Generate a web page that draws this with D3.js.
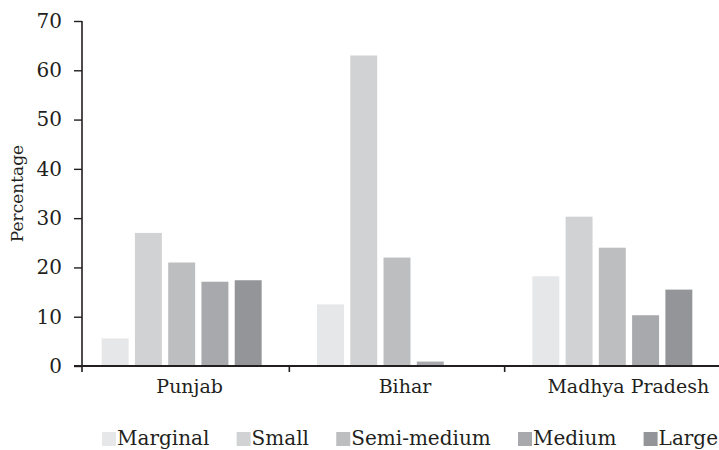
<!DOCTYPE html>
<html>
<head>
<meta charset="utf-8">
<script src="https://cdn.jsdelivr.net/npm/d3@7"></script>
<style>
  html, body { margin: 0; padding: 0; background: #fff; }
  svg { display: block; }
  text { font-family: "DejaVu Serif", serif; fill: #231f20; }
</style>
</head>
<body>
<svg id="chart" width="719" height="450"></svg>
<script>
const categories = ["Punjab", "Bihar", "Madhya Pradesh"];
const series = ["Marginal", "Small", "Semi-medium", "Medium", "Large"];
const marginal = [5.6, 12.5, 18.2];
const small = [27.0, 63.0, 30.3];
const semiMedium = [21.0, 22.0, 24.0];
const medium = [17.1, 0.9, 10.3];
const large = [17.4, 0.0, 15.5];
const yTicks = [0, 10, 20, 30, 40, 50, 60, 70];
const colors = ["#e6e7e8", "#d1d2d4", "#bcbec0", "#a7a9ac", "#939598"];

const valuesBySeries = [marginal, small, semiMedium, medium, large];

const svg = d3.select("#chart");
const axisColor = "#231f20";
const fontSize = 19;

const x0 = d3.scaleBand().domain(categories).range([74, 720]).paddingInner(0).paddingOuter(0);
const x1 = d3.scaleBand().domain(series).range([-80, 80]).paddingInner(0.19);
const y = d3.scaleLinear().domain([0, 70]).range([366, 21]);
const color = d3.scaleOrdinal().domain(series).range(colors);
const yAxisX = 82;

// bars
const data = [];
categories.forEach((c, ci) => {
  series.forEach((s, si) => {
    data.push({ cat: c, ser: s, v: valuesBySeries[si][ci] });
  });
});
svg.append("g").selectAll("rect").data(data).join("rect")
  .attr("x", d => x0(d.cat) + x0.bandwidth() / 2 + x1(d.ser))
  .attr("width", x1.bandwidth())
  .attr("y", d => y(d.v))
  .attr("height", d => y(0) - y(d.v))
  .attr("fill", d => color(d.ser));

// y axis
const yAxis = d3.axisLeft(y).tickValues(yTicks).tickSize(8).tickPadding(12).tickFormat(d3.format("d"));
const gy = svg.append("g").attr("transform", `translate(${yAxisX},0)`).call(yAxis);
gy.select(".domain").attr("stroke", axisColor).attr("stroke-width", 1.6).attr("d", `M0,${y(0) + 6}V${y(70)}`);
gy.selectAll(".tick line").attr("stroke", axisColor).attr("stroke-width", 1.4);
gy.selectAll(".tick text").attr("font-size", 20).attr("font-family", "DejaVu Serif").attr("fill", axisColor);

// x axis
const xAxisG = svg.append("g");
xAxisG.append("line")
  .attr("x1", 74).attr("x2", 719)
  .attr("y1", y(0)).attr("y2", y(0))
  .attr("stroke", axisColor).attr("stroke-width", 2);
const boundaries = categories.slice(1).map(c => x0(c));
xAxisG.selectAll("line.tk").data(boundaries).join("line")
  .attr("class", "tk")
  .attr("x1", d => d).attr("x2", d => d)
  .attr("y1", y(0)).attr("y2", y(0) + 6)
  .attr("stroke", axisColor).attr("stroke-width", 1.6);
xAxisG.selectAll("text").data(categories).join("text")
  .attr("x", (d, i) => x0(d) + x0.bandwidth() / 2 + (i === categories.length - 1 ? 16 : 8))
  .attr("y", 393)
  .attr("text-anchor", "middle")
  .attr("font-size", fontSize)
  .text(d => d);

// y label
svg.append("text")
  .attr("transform", `translate(23,${(y(0) + y(70)) / 2}) rotate(-90)`)
  .attr("text-anchor", "middle")
  .attr("font-size", 17)
  .text("Percentage");

// legend
const legend = svg.append("g");
const items = legend.selectAll("g").data(series).join("g");
const sq = 14;
items.append("rect").attr("width", sq).attr("height", sq).attr("y", -sq + 1).attr("fill", d => color(d));
items.append("text").attr("x", sq + 1).attr("y", 0).attr("font-size", 20).text(d => d);
const widths = [];
items.each(function() { widths.push(sq + 1 + d3.select(this).select("text").node().getComputedTextLength()); });
const legStart = 102, legEnd = 718;
const gap = (legEnd - legStart - d3.sum(widths)) / (series.length - 1);
let cx = legStart;
items.attr("transform", (d, i) => {
  const t = `translate(${cx},445)`;
  cx += widths[i] + gap;
  return t;
});
</script>
</body>
</html>
